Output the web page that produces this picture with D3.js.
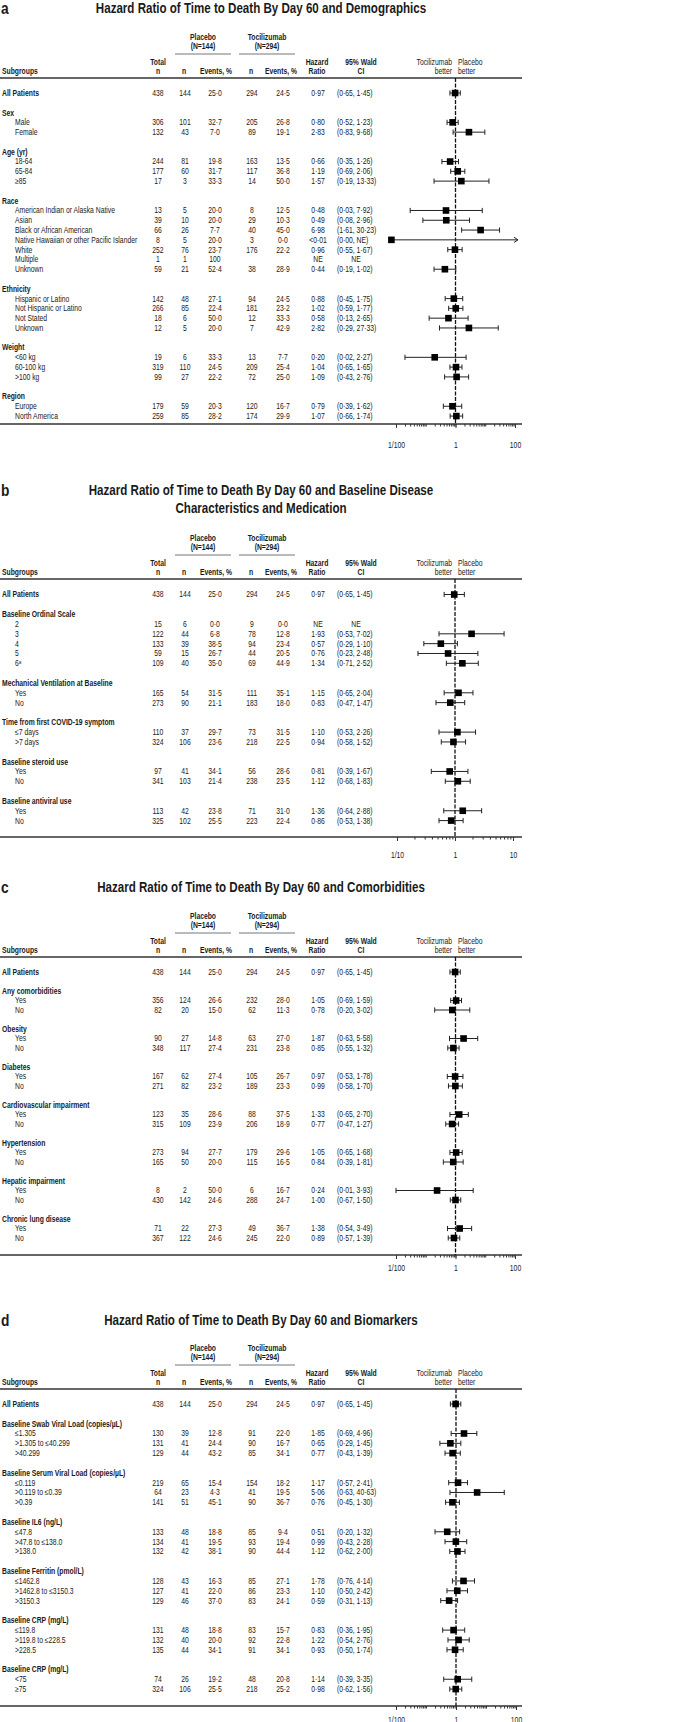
<!DOCTYPE html>
<html><head><meta charset="utf-8">
<script src="https://cdn.jsdelivr.net/npm/d3@7"></script>
<style>body{margin:0;background:#fff}</style>
</head><body>
<svg id="chart" width="683" height="1722"></svg>
<script>
// ---------------- DATA ----------------
// All Patients row: total, placebo n, placebo events %, toci n, toci events %, HR, lo, hi
const allRow = [438, 144, 25.0, 294, 24.5, 0.97, 0.65, 1.45];

// Panel a: demographics
const aGroups = ["Sex", "Age (yr)", "Race", "Ethnicity", "Weight", "Region"];
const aLabels = ["Male", "Female", "18-64", "65-84", "≥85",
  "American Indian or Alaska Native", "Asian", "Black or African American", "Native Hawaiian or other Pacific Islander", "White", "Multiple", "Unknown",
  "Hispanic or Latino", "Not Hispanic or Latino", "Not Stated", "Unknown",
  "<60 kg", "60-100 kg", ">100 kg", "Europe", "North America"];
const aGroupIdx = [0,0,1,1,1,2,2,2,2,2,2,2,3,3,3,3,4,4,4,5,5];
const aTotal = [306,132,244,177,17,13,39,66,8,252,1,59,142,266,18,12,19,319,99,179,259];
const aPlaN  = [101,43,81,60,3,5,10,26,5,76,1,21,48,85,6,5,6,110,27,59,85];
const aPlaEv = [32.7,7.0,19.8,31.7,33.3,20.0,20.0,7.7,20.0,23.7,100,52.4,27.1,22.4,50.0,20.0,33.3,24.5,22.2,20.3,28.2];
const aTocN  = [205,89,163,117,14,8,29,40,3,176,null,38,94,181,12,7,13,209,72,120,174];
const aTocEv = [26.8,19.1,13.5,36.8,50.0,12.5,10.3,45.0,0.0,22.2,null,28.9,24.5,23.2,33.3,42.9,7.7,25.4,25.0,16.7,29.9];
const aHR    = [0.80,2.83,0.66,1.19,1.57,0.48,0.49,6.98,0.007,0.96,null,0.44,0.88,1.02,0.58,2.82,0.20,1.04,1.09,0.79,1.07];
const aLo    = [0.52,0.83,0.35,0.69,0.19,0.03,0.08,1.61,0.00,0.55,null,0.19,0.45,0.59,0.13,0.29,0.02,0.65,0.43,0.39,0.66];
const aHi    = [1.23,9.68,1.26,2.06,13.33,7.92,2.96,30.23,null,1.67,null,1.02,1.75,1.77,2.65,27.33,2.27,1.65,2.76,1.62,1.74];

// Panel b: baseline disease characteristics and medication
const bGroups = ["Baseline Ordinal Scale", "Mechanical Ventilation at Baseline", "Time from first COVID-19 symptom", "Baseline steroid use", "Baseline antiviral use"];
const bLabels = ["2","3","4","5","6ᵃ","Yes","No","≤7 days",">7 days","Yes","No","Yes","No"];
const bGroupIdx = [0,0,0,0,0,1,1,2,2,3,3,4,4];
const bTotal = [15,122,133,59,109,165,273,110,324,97,341,113,325];
const bPlaN  = [6,44,39,15,40,54,90,37,106,41,103,42,102];
const bPlaEv = [0.0,6.8,38.5,26.7,35.0,31.5,21.1,29.7,23.6,34.1,21.4,23.8,25.5];
const bTocN  = [9,78,94,44,69,111,183,73,218,56,238,71,223];
const bTocEv = [0.0,12.8,23.4,20.5,44.9,35.1,18.0,31.5,22.5,28.6,23.5,31.0,22.4];
const bHR    = [null,1.93,0.57,0.76,1.34,1.15,0.83,1.10,0.94,0.81,1.12,1.36,0.86];
const bLo    = [null,0.53,0.29,0.23,0.71,0.65,0.47,0.53,0.58,0.39,0.68,0.64,0.53];
const bHi    = [null,7.02,1.10,2.48,2.52,2.04,1.47,2.26,1.52,1.67,1.83,2.88,1.38];

// Panel c: comorbidities
const cGroups = ["Any comorbidities","Obesity","Diabetes","Cardiovascular impairment","Hypertension","Hepatic impairment","Chronic lung disease"];
const cLabels = ["Yes","No","Yes","No","Yes","No","Yes","No","Yes","No","Yes","No","Yes","No"];
const cGroupIdx = [0,0,1,1,2,2,3,3,4,4,5,5,6,6];
const cTotal = [356,82,90,348,167,271,123,315,273,165,8,430,71,367];
const cPlaN  = [124,20,27,117,62,82,35,109,94,50,2,142,22,122];
const cPlaEv = [26.6,15.0,14.8,27.4,27.4,23.2,28.6,23.9,27.7,20.0,50.0,24.6,27.3,24.6];
const cTocN  = [232,62,63,231,105,189,88,206,179,115,6,288,49,245];
const cTocEv = [28.0,11.3,27.0,23.8,26.7,23.3,37.5,18.9,29.6,16.5,16.7,24.7,36.7,22.0];
const cHR    = [1.05,0.78,1.87,0.85,0.97,0.99,1.33,0.77,1.05,0.84,0.24,1.00,1.38,0.89];
const cLo    = [0.69,0.20,0.63,0.55,0.53,0.58,0.65,0.47,0.65,0.39,0.01,0.67,0.54,0.57];
const cHi    = [1.59,3.02,5.58,1.32,1.78,1.70,2.70,1.27,1.68,1.81,3.93,1.50,3.49,1.39];

// Panel d: biomarkers
const dGroups = ["Baseline Swab Viral Load (copies/µL)","Baseline Serum Viral Load (copies/µL)","Baseline IL6 (ng/L)","Baseline Ferritin (pmol/L)","Baseline CRP (mg/L)","Baseline CRP (mg/L)"];
const dLabels = ["≤1.305",">1.305 to ≤40.299",">40.299","≤0.119",">0.119 to ≤0.39",">0.39","≤47.8",">47.8 to ≤138.0",">138.0",
  "≤1462.8",">1462.8 to ≤3150.3",">3150.3","≤119.8",">119.8 to ≤228.5",">228.5","<75","≥75"];
const dGroupIdx = [0,0,0,1,1,1,2,2,2,3,3,3,4,4,4,5,5];
const dTotal = [130,131,129,219,64,141,133,134,132,128,127,129,131,132,135,74,324];
const dPlaN  = [39,41,44,65,23,51,48,41,42,43,41,46,48,40,44,26,106];
const dPlaEv = [12.8,24.4,43.2,15.4,4.3,45.1,18.8,19.5,38.1,16.3,22.0,37.0,18.8,20.0,34.1,19.2,25.5];
const dTocN  = [91,90,85,154,41,90,85,93,90,85,86,83,83,92,91,48,218];
const dTocEv = [22.0,16.7,34.1,18.2,19.5,36.7,9.4,19.4,44.4,27.1,23.3,24.1,15.7,22.8,34.1,20.8,25.2];
const dHR    = [1.85,0.65,0.77,1.17,5.06,0.76,0.51,0.99,1.12,1.78,1.10,0.59,0.83,1.22,0.93,1.14,0.98];
const dLo    = [0.69,0.29,0.43,0.57,0.63,0.45,0.20,0.43,0.62,0.76,0.50,0.31,0.36,0.54,0.50,0.39,0.62];
const dHi    = [4.96,1.45,1.39,2.41,40.63,1.30,1.32,2.28,2.00,4.14,2.42,1.13,1.95,2.76,1.74,3.35,1.56];

// Titles and tick labels
const titles = {
  a: ["Hazard Ratio of Time to Death By Day 60 and Demographics"],
  b: ["Hazard Ratio of Time to Death By Day 60 and Baseline Disease", "Characteristics and Medication"],
  c: ["Hazard Ratio of Time to Death By Day 60 and Comorbidities"],
  d: ["Hazard Ratio of Time to Death By Day 60 and Biomarkers"]
};
const wideTicks = [0.01, 1, 100];
const wideTickLabels = ["1/100", "1", "100"];
const narrowTicks = [0.1, 1, 10];
const narrowTickLabels = ["1/10", "1", "10"];

// ---------------- DRAW ----------------
const FONT = "'Liberation Sans Narrow','Arial Narrow','Liberation Sans',Arial,sans-serif";
const TXT = "#1a1a1a";
const FS = 8.4;
const NARROW = 0.81;   // horizontal condensation to mimic a narrow face
const svg = d3.select("#chart").style("font-family", FONT);
svg.append("rect").attr("width", 683).attr("height", 1722).attr("fill", "#fff");

const fmt1 = v => v == null ? "" : (v === 100 ? "100" : d3.format(".1f")(v).replace(".", "·"));
const fmt2 = v => d3.format(".2f")(v).replace(".", "·");
const hrText = v => v == null ? "NE" : (v < 0.01 ? "<0·01" : fmt2(v));
const ciText = (hr, lo, hi) => (hr == null ? "NE" : `(${lo == null ? "NE" : fmt2(lo)}, ${hi == null ? "NE" : fmt2(hi)})`);

const COL = {label: 2, indent: 15, total: 158, pn: 185, pe: 215, tn: 252, te: 283, hr: 318, ci: 337, ciHead: 361};

function drawPanel(cfg, groups, labels, gidx, total, pn, pe, tn, te, hr, lo, hi) {
  const g = svg.append("g");
  const rows = [{kind: "all", label: "All Patients", r: 0, v: allRow}];
  let r = 0;
  groups.forEach((name, gi) => {
    r += 2;
    rows.push({kind: "head", label: name, r});
    labels.forEach((lab, i) => {
      if (gidx[i] === gi) { r += 1; rows.push({kind: "row", label: lab, r, v: [total[i], pn[i], pe[i], tn[i], te[i], hr[i], lo[i], hi[i]]}); }
    });
  });
  const y = d3.scaleLinear().domain([0, r]).range([cfg.firstY, cfg.firstY + r * cfg.step]);
  const x = d3.scaleLog().domain(cfg.domain).range(cfg.range);

  // title & letter
  g.append("text").attr("x", 1).attr("y", cfg.titleY[0]).attr("dy", "0.36em")
    .attr("font-size", 17).attr("font-weight", "bold").attr("fill", TXT).text(cfg.letter);
  cfg.titles.forEach((t, i) => g.append("text").attr("x", 261).attr("y", cfg.titleY[i]).attr("dy", "0.36em")
    .attr("text-anchor", "middle").attr("font-size", 14.3).attr("font-weight", "bold").attr("fill", TXT).text(t));

  // header
  const L = cfg.lineY;
  const head = (xx, yy, t, anchor = "middle", bold = true) => g.append("text").attr("x", xx).attr("y", yy).attr("dy", "0.35em")
    .attr("text-anchor", anchor).attr("font-size", FS).attr("font-weight", bold ? "bold" : "normal").attr("fill", TXT).text(t);
  head(203, L - 41, "Placebo"); head(203, L - 31.5, "(N=144)");
  head(267, L - 41, "Tocilizumab"); head(267, L - 31.5, "(N=294)");
  g.append("line").attr("x1", 175).attr("x2", 231).attr("y1", L - 24).attr("y2", L - 24).attr("stroke", "#777").attr("stroke-width", 1);
  g.append("line").attr("x1", 239).attr("x2", 295).attr("y1", L - 24).attr("y2", L - 24).attr("stroke", "#777").attr("stroke-width", 1);
  head(COL.label, L - 6.5, "Subgroups", "start");
  head(COL.total, L - 16, "Total"); head(COL.total, L - 6.5, "n");
  head(COL.pn - 1, L - 6.5, "n"); head(COL.pe + 1, L - 6.5, "Events, %");
  head(COL.tn - 1, L - 6.5, "n"); head(COL.te - 2, L - 6.5, "Events, %");
  head(COL.hr - 1, L - 16, "Hazard"); head(COL.hr - 1, L - 6.5, "Ratio");
  head(COL.ciHead, L - 16, "95% Wald"); head(COL.ciHead, L - 6.5, "CI");
  head(452, L - 16, "Tocilizumab", "end", false); head(452, L - 6.5, "better", "end", false);
  head(458, L - 16, "Placebo", "start", false); head(458, L - 6.5, "better", "start", false);
  g.append("line").attr("x1", 0).attr("x2", 522).attr("y1", L).attr("y2", L).attr("stroke", "#333").attr("stroke-width", 1.5);
  g.append("line").attr("x1", 0).attr("x2", 522).attr("y1", cfg.bottomY).attr("y2", cfg.bottomY).attr("stroke", "#333").attr("stroke-width", 1.5);

  // reference line at HR = 1
  g.append("line").attr("x1", x(1)).attr("x2", x(1)).attr("y1", L).attr("y2", cfg.bottomY)
    .attr("stroke", "#111").attr("stroke-width", 1.3).attr("stroke-dasharray", "4,1.5");

  // table rows
  const rg = g.selectAll("g.row").data(rows).join("g").attr("transform", d => `translate(0,${y(d.r)})`);
  rg.append("text").attr("x", d => d.kind === "row" ? COL.indent : COL.label).attr("dy", "0.35em")
    .attr("font-size", FS).attr("font-weight", d => d.kind === "row" ? "normal" : "bold").attr("fill", TXT)
    .text(d => d.label);
  const dataRows = rg.filter(d => d.v);
  const cell = (xx, f, anchor = "middle") => dataRows.append("text").attr("x", xx).attr("dy", "0.35em")
    .attr("text-anchor", anchor).attr("font-size", FS).attr("fill", TXT).text(f);
  cell(COL.total, d => d.v[0]);
  cell(COL.pn, d => d.v[1]);
  cell(COL.pe, d => fmt1(d.v[2]));
  cell(COL.tn, d => d.v[3] == null ? "" : d.v[3]);
  cell(COL.te, d => fmt1(d.v[4]));
  cell(COL.hr, d => hrText(d.v[5]));
  dataRows.append("text").attr("x", d => d.v[5] == null ? COL.ci + 19 : COL.ci).attr("dy", "0.35em")
    .attr("text-anchor", d => d.v[5] == null ? "middle" : "start").attr("font-size", FS).attr("fill", TXT)
    .text(d => ciText(d.v[5], d.v[6], d.v[7]));

  // forest marks
  const xr = cfg.range;
  const est = dataRows.filter(d => d.v[5] != null);
  const loX = d => d.v[6] > 0 ? x(d.v[6]) : x(d.v[5]);
  const hiX = d => d.v[7] != null ? x(d.v[7]) : xr[1] + 3;
  est.append("line").attr("x1", loX).attr("x2", hiX).attr("stroke", "#222").attr("stroke-width", 1);
  est.filter(d => d.v[6] > 0).append("line").attr("x1", loX).attr("x2", loX).attr("y1", -2.6).attr("y2", 2.6).attr("stroke", "#222").attr("stroke-width", 1);
  est.filter(d => d.v[7] != null).append("line").attr("x1", hiX).attr("x2", hiX).attr("y1", -2.6).attr("y2", 2.6).attr("stroke", "#222").attr("stroke-width", 1);
  est.filter(d => d.v[7] == null).append("path")
    .attr("d", d => `M${hiX(d) - 4},-2.6L${hiX(d)},0L${hiX(d) - 4},2.6`).attr("fill", "none").attr("stroke", "#222").attr("stroke-width", 1);
  est.append("rect").attr("x", d => x(d.v[5]) - 3.3).attr("y", -3.3).attr("width", 6.6).attr("height", 6.6).attr("fill", "#000");

  // axis
  const [d0, d1] = cfg.domain;
  const minors = [];
  for (let k = Math.round(Math.log10(d0)); k < Math.round(Math.log10(d1)); k++) {
    for (let m = 1; m <= 9; m++) { const v = m * Math.pow(10, k); if (v > d0 && v < d1) minors.push(v); }
  }
  const axMinor = d3.axisBottom(x).tickValues(minors).tickSize(2.5).tickFormat("");
  const gm = g.append("g").attr("transform", `translate(0,${cfg.bottomY})`).call(axMinor);
  gm.select(".domain").remove();
  gm.selectAll("line").attr("stroke", "#333");
  const axMajor = d3.axisBottom(x).tickValues(cfg.ticks).tickSize(4).tickPadding(cfg.labelPad)
    .tickFormat((d, i) => cfg.tickLabels[i]);
  const gM = g.append("g").attr("transform", `translate(0,${cfg.bottomY})`).call(axMajor);
  gM.select(".domain").remove();
  gM.selectAll("line").attr("stroke", "#333");
  gM.selectAll("text").attr("font-size", FS).attr("font-family", FONT).attr("fill", TXT);
}

drawPanel({letter: "a", titles: titles.a, titleY: [8], lineY: 78, firstY: 93, step: 9.79, bottomY: 424, labelPad: 14,
  domain: [0.01, 100], range: [396, 515], ticks: wideTicks, tickLabels: wideTickLabels},
  aGroups, aLabels, aGroupIdx, aTotal, aPlaN, aPlaEv, aTocN, aTocEv, aHR, aLo, aHi);
drawPanel({letter: "b", titles: titles.b, titleY: [490, 508], lineY: 579, firstY: 594.5, step: 9.83, bottomY: 837, labelPad: 11,
  domain: [0.1, 10], range: [397, 513], ticks: narrowTicks, tickLabels: narrowTickLabels},
  bGroups, bLabels, bGroupIdx, bTotal, bPlaN, bPlaEv, bTocN, bTocEv, bHR, bLo, bHi);
drawPanel({letter: "c", titles: titles.c, titleY: [887], lineY: 957, firstY: 972, step: 9.5, bottomY: 1255, labelPad: 6.5,
  domain: [0.01, 100], range: [396, 515], ticks: wideTicks, tickLabels: wideTickLabels},
  cGroups, cLabels, cGroupIdx, cTotal, cPlaN, cPlaEv, cTocN, cTocEv, cHR, cLo, cHi);
drawPanel({letter: "d", titles: titles.d, titleY: [1320], lineY: 1389, firstY: 1404, step: 9.83, bottomY: 1706, labelPad: 7,
  domain: [0.01, 100], range: [396, 516], ticks: wideTicks, tickLabels: wideTickLabels},
  dGroups, dLabels, dGroupIdx, dTotal, dPlaN, dPlaEv, dTocN, dTocEv, dHR, dLo, dHi);

// condense every text horizontally (no narrow face installed): scale the glyph box, keep anchor position
svg.selectAll("text").each(function () {
  const xa = +(this.getAttribute("x") || 0);
  this.setAttribute("x", (xa / NARROW).toFixed(2));
  this.setAttribute("transform", `scale(${NARROW},1)`);
});
</script>
</body></html>
